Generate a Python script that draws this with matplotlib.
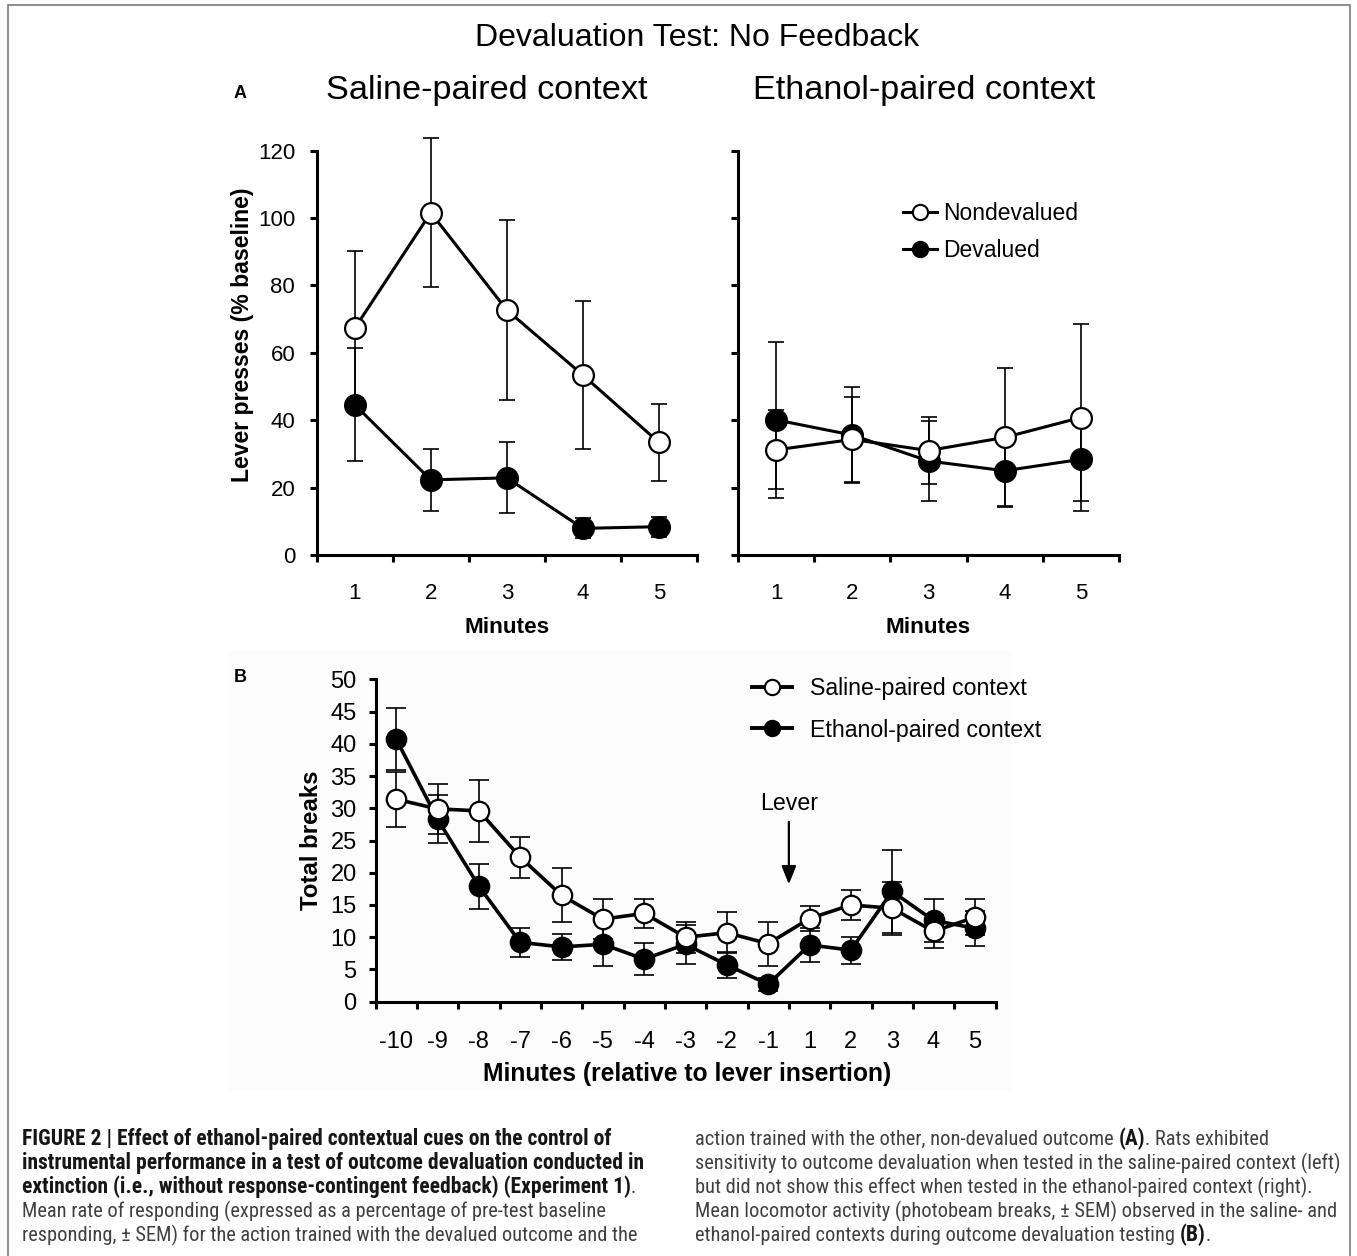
import matplotlib
matplotlib.use('Agg')
import matplotlib.pyplot as plt
from matplotlib import font_manager as fm
from matplotlib.lines import Line2D
from matplotlib.patches import Rectangle
import numpy as np

plt.rcParams['font.family'] = ['Liberation Sans', 'DejaVu Sans']

# ---------------- data ----------------
minutes_a = ['1', '2', '3', '4', '5']
saline_nondev = [67.3, 101.6, 72.7, 53.4, 33.4]
saline_nondev_sem = [23.0, 22.1, 26.6, 22.0, 11.4]
saline_dev = [44.6, 22.3, 22.9, 7.9, 8.4]
saline_dev_sem = [16.8, 9.3, 10.5, 3.0, 3.0]

ethanol_nondev = [31.2, 34.3, 31.0, 34.9, 40.8]
ethanol_nondev_sem = [11.7, 12.5, 10.0, 20.5, 27.7]
ethanol_dev = [40.1, 35.6, 27.9, 25.0, 28.4]
ethanol_dev_sem = [23.2, 14.2, 12.0, 10.9, 12.3]

minutes_b = ['-10', '-9', '-8', '-7', '-6', '-5', '-4', '-3', '-2', '-1',
             '1', '2', '3', '4', '5']
breaks_saline = [31.4, 29.9, 29.6, 22.4, 16.5, 12.8, 13.7, 10.0, 10.7, 9.0,
                 12.9, 15.0, 14.5, 10.9, 13.1]
breaks_saline_sem = [4.3, 3.9, 4.8, 3.2, 4.2, 3.1, 2.2, 2.4, 3.2, 3.4,
                     2.0, 2.4, 4.1, 2.6, 2.8]
breaks_ethanol = [40.7, 28.3, 17.9, 9.2, 8.5, 8.9, 6.6, 8.9, 5.7, 2.7,
                  8.8, 8.0, 17.1, 12.6, 11.4]
breaks_ethanol_sem = [4.8, 3.7, 3.5, 2.2, 2.0, 3.4, 2.5, 3.0, 2.0, 1.0,
                      2.6, 2.1, 6.4, 3.3, 2.7]
lever_position = 9.5   # between -1 and 1

# ---------------- figure ----------------
W, H = 1357, 1256
fig = plt.figure(figsize=(W / 100, H / 100), dpi=100)
fig.patch.set_facecolor('white')


def fx(px):
    return px / W


def fy(py):
    return 1 - py / H


def axes_px(x0, x1, y_top, y_bot):
    return fig.add_axes([fx(x0), fy(y_bot), (x1 - x0) / W, (y_bot - y_top) / H])


# faint background of panel B image & outer border
fig.add_artist(Rectangle((fx(228), fy(1091)), (1012 - 228) / W, (1091 - 650) / H,
                         transform=fig.transFigure, facecolor='#fcfcfc',
                         edgecolor='none', zorder=0))
fig.add_artist(Rectangle((fx(8), fy(1300)), (1350 - 8) / W, (1300 - 5) / H,
                         transform=fig.transFigure, facecolor='none',
                         edgecolor='#7a7a7a', lw=1.2, zorder=10))


def style(ax, cats, ymax, ystep, tick_fs, pad_y, pad_x, lw=2.2, ylabels=True):
    n = len(cats)
    ax.set_xlim(-0.5, n - 0.5)
    ax.set_ylim(0, ymax)
    ax.patch.set_alpha(0)
    for s in ['top', 'right']:
        ax.spines[s].set_visible(False)
    for s in ['left', 'bottom']:
        ax.spines[s].set_linewidth(lw)
        ax.spines[s].set_capstyle('projecting')
    ax.set_xticks(np.arange(n + 1) - 0.5)
    ax.set_xticklabels([])
    ax.set_xticks(np.arange(n), minor=True)
    ax.set_xticklabels(cats, minor=True)
    ax.tick_params(axis='x', which='major', direction='out', length=5, width=lw)
    ax.tick_params(axis='x', which='minor', length=0, pad=pad_x, labelsize=tick_fs)
    ax.set_yticks(np.arange(0, ymax + 0.01, ystep))
    ax.tick_params(axis='y', direction='out', length=5, width=lw, pad=pad_y,
                   labelsize=tick_fs)
    if not ylabels:
        ax.set_yticklabels([])


def series(ax, y, err, filled, ms, lw, cap, elw, z):
    x = np.arange(len(y))
    cont = ax.errorbar(x, y, yerr=err, fmt='none', ecolor='black', elinewidth=elw,
                       capsize=cap, capthick=elw, zorder=2)
    for art in list(cont[1]) + list(cont[2]):
        art.set_clip_on(False)
    ax.plot(x, y, color='black', lw=lw, zorder=3)
    ax.plot(x, y, ls='none', marker='o', ms=ms, mfc='black' if filled else 'white',
            mec='black', mew=1.6, zorder=z, clip_on=False)


# ---------------- titles ----------------
fig.text(fx(697), fy(38), 'Devaluation Test: No Feedback', ha='center', va='center',
         fontsize=23)
fig.text(fx(487), fy(90), 'Saline-paired context', ha='center', va='center', fontsize=24.7)
fig.text(fx(924), fy(90), 'Ethanol-paired context', ha='center', va='center', fontsize=24.7)
fig.text(fx(240), fy(94), 'A', ha='center', va='center', fontsize=13, weight='bold')
fig.text(fx(240), fy(677), 'B', ha='center', va='center', fontsize=13, weight='bold')

# ---------------- panel A left ----------------
axL = axes_px(316.7, 697, 150.7, 555)
style(axL, minutes_a, 120, 20, 16, 10.5, 20)
series(axL, saline_dev, saline_dev_sem, True, 15, 2.2, 5.5, 1.2, 4)
series(axL, saline_nondev, saline_nondev_sem, False, 15, 2.2, 5.5, 1.2, 5)
axL.set_xlabel('Minutes', fontsize=16.2, weight='bold', va='center')
axL.xaxis.set_label_coords(0.5, -0.180)
axL.set_ylabel('Lever presses (% baseline)', fontsize=16.6, weight='bold', va='center')
axL.yaxis.set_label_coords(-0.196, 0.544)

# ---------------- panel A right ----------------
axR = axes_px(738, 1119, 150.7, 555)
style(axR, minutes_a, 120, 20, 16, 10.5, 20, ylabels=False)
series(axR, ethanol_dev, ethanol_dev_sem, True, 15, 2.2, 5.5, 1.2, 4)
series(axR, ethanol_nondev, ethanol_nondev_sem, False, 15, 2.2, 5.5, 1.2, 5)
axR.set_xlabel('Minutes', fontsize=16.2, weight='bold', va='center')
axR.xaxis.set_label_coords(0.5, -0.180)

hA = [Line2D([], [], color='black', lw=2.2, marker='o', ms=11, mfc='white', mec='black', mew=1.5),
      Line2D([], [], color='black', lw=2.2, marker='o', ms=11, mfc='black', mec='black', mew=1.5)]
axR.legend(hA, ['Nondevalued', 'Devalued'], loc='upper left',
           bbox_to_anchor=(fx(903), fy(202)), bbox_transform=fig.transFigure,
           frameon=False, borderpad=0, borderaxespad=0, fontsize=16.5,
           handlelength=1.48, handletextpad=0.26, labelspacing=0.62)

# ---------------- panel B ----------------
axB = axes_px(375.6, 995.5, 679.3, 1001.7)
style(axB, minutes_b, 50, 5, 17, 8.6, 21)
series(axB, breaks_ethanol, breaks_ethanol_sem, True, 14, 2.6, 7, 1.2, 4)
series(axB, breaks_saline, breaks_saline_sem, False, 14, 2.6, 7, 1.2, 5)
axB.set_xlabel('Minutes (relative to lever insertion)', fontsize=17.7, weight='bold',
               va='center')
axB.xaxis.set_label_coords(0.502, -0.224)
axB.set_ylabel('Total breaks', fontsize=17.3, weight='bold', va='center')
axB.yaxis.set_label_coords(-0.104, 0.5016)

axB.text(lever_position, 30.8, 'Lever', ha='center', va='center', fontsize=16.7)
axB.annotate('', xy=(lever_position, 18.2), xytext=(lever_position, 27.9),
             arrowprops=dict(arrowstyle='-|>,head_length=0.55,head_width=0.22',
                             color='black', lw=1.6, mutation_scale=20,
                             shrinkA=0, shrinkB=0))

hB = [Line2D([], [], color='black', lw=2.8, marker='o', ms=11, mfc='white', mec='black', mew=1.5),
      Line2D([], [], color='black', lw=2.8, marker='o', ms=11, mfc='black', mec='black', mew=1.5)]
axB.legend(hB, ['Saline-paired context', 'Ethanol-paired context'], loc='upper left',
           bbox_to_anchor=(fx(752), fy(677)), bbox_transform=fig.transFigure,
           frameon=False, borderpad=0, borderaxespad=0, fontsize=16.7,
           handlelength=1.72, handletextpad=0.78, labelspacing=0.80)

# ---------------- caption ----------------
names = {f.name for f in fm.fontManager.ttflist}
cap_family = 'Roboto'
cap_stretch = 'normal'
for cand in ['Liberation Sans Narrow', 'Roboto Condensed', 'Open Sans Condensed']:
    if cand in names:
        cap_family = cand
        break
if cap_family not in names:
    cap_family = 'DejaVu Sans'
    cap_stretch = 'condensed'

renderer = fig.canvas.get_renderer()


def tw(s, size, weight='normal'):
    t = fig.text(0, 0, s, fontsize=size, family=cap_family, weight=weight,
                 fontstretch=cap_stretch)
    w = t.get_window_extent(renderer).width
    t.remove()
    return w


ref_line = 'sensitivity to outcome devaluation when tested in the saline-paired context (left)'
cap_size = 12 * 641 / tw(ref_line, 12)
ref_bold = 'instrumental performance in a test of outcome devaluation conducted in'
cap_size_bold = 12 * 624 / tw(ref_bold, 12, 'bold')
cap_size_bold = min(max(cap_size_bold, cap_size), cap_size * 1.08)


def space_w(weight, size):
    return tw('a a', size, weight) - tw('aa', size, weight)


def draw_line(x, y, segs):
    for text, bold in segs:
        weight = 'bold' if bold else 'normal'
        size = cap_size_bold if bold else cap_size
        lead = len(text) - len(text.lstrip(' '))
        trail = len(text) - len(text.rstrip(' '))
        core = text.strip(' ')
        x += lead * space_w(weight, size)
        if core:
            t = fig.text(fx(x), fy(y), core, fontsize=size, family=cap_family,
                         weight=weight, fontstretch=cap_stretch,
                         color='#161616' if bold else '#404040',
                         ha='left', va='baseline')
            x += t.get_window_extent(renderer).width
        x += trail * space_w(weight, size)


left_lines = [
    [('FIGURE 2 | Effect of ethanol-paired contextual cues on the control of', True)],
    [('instrumental performance in a test of outcome devaluation conducted in', True)],
    [('extinction (i.e., without response-contingent feedback) (Experiment 1)', True), ('.', False)],
    [('Mean rate of responding (expressed as a percentage of pre-test baseline', False)],
    [('responding, \u00b1 SEM) for the action trained with the devalued outcome and the', False)],
]
right_lines = [
    [('action trained with the other, non-devalued outcome ', False), ('(A)', True),
     ('. Rats exhibited', False)],
    [('sensitivity to outcome devaluation when tested in the saline-paired context (left)', False)],
    [('but did not show this effect when tested in the ethanol-paired context (right).', False)],
    [('Mean locomotor activity (photobeam breaks, \u00b1 SEM) observed in the saline- and', False)],
    [('ethanol-paired contexts during outcome devaluation testing ', False), ('(B)', True),
     ('.', False)],
]
baselines = [1145, 1169, 1193, 1217, 1241]
for segs, yb in zip(left_lines, baselines):
    draw_line(22, yb, segs)
for segs, yb in zip(right_lines, baselines):
    draw_line(695, yb, segs)

fig.savefig('out.png', dpi=100, facecolor='white')
